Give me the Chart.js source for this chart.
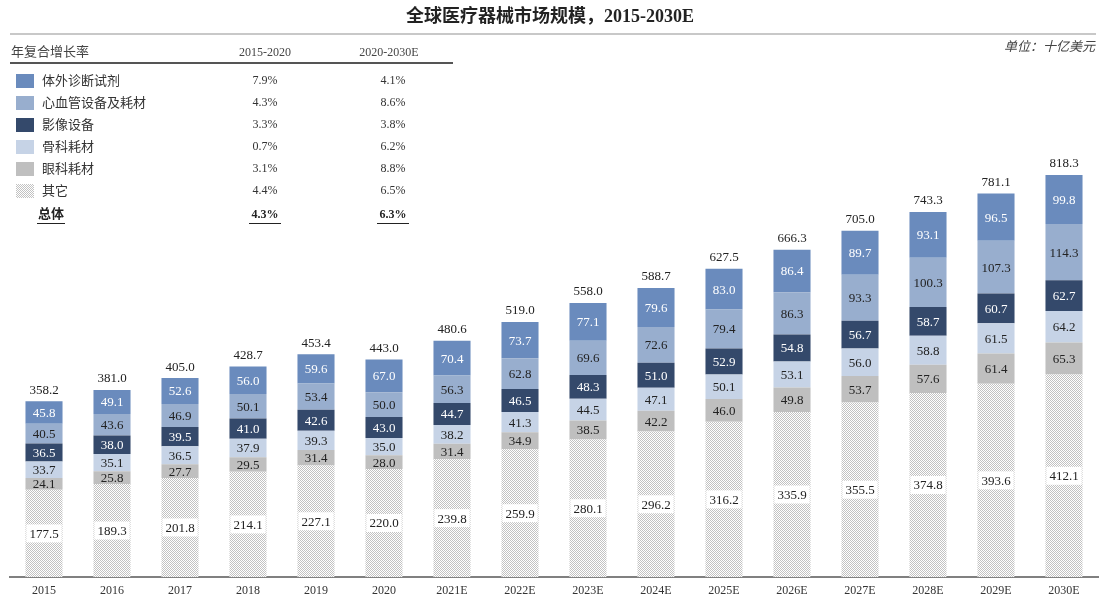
<!DOCTYPE html>
<html>
<head>
<meta charset="utf-8">
<script src="https://cdn.jsdelivr.net/npm/chart.js@4.4.1/dist/chart.umd.min.js"></script>
<style>
  html, body { margin: 0; padding: 0; background: #fff; }
  #wrap { position: relative; width: 1101px; height: 597px; }
</style>
</head>
<body>
<div id="wrap"><canvas id="chart" width="1101" height="597"></canvas></div>
<script>
// data (十亿美元)
const years = ['2015', '2016', '2017', '2018', '2019', '2020', '2021E', '2022E', '2023E', '2024E',
               '2025E', '2026E', '2027E', '2028E', '2029E', '2030E'];
const ivd      = [45.8, 49.1, 52.6, 56.0, 59.6, 67.0, 70.4, 73.7, 77.1, 79.6, 83.0, 86.4, 89.7, 93.1, 96.5, 99.8];
const cardio   = [40.5, 43.6, 46.9, 50.1, 53.4, 50.0, 56.3, 62.8, 69.6, 72.6, 79.4, 86.3, 93.3, 100.3, 107.3, 114.3];
const imaging  = [36.5, 38.0, 39.5, 41.0, 42.6, 43.0, 44.7, 46.5, 48.3, 51.0, 52.9, 54.8, 56.7, 58.7, 60.7, 62.7];
const ortho    = [33.7, 35.1, 36.5, 37.9, 39.3, 35.0, 38.2, 41.3, 44.5, 47.1, 50.1, 53.1, 56.0, 58.8, 61.5, 64.2];
const ophth    = [24.1, 25.8, 27.7, 29.5, 31.4, 28.0, 31.4, 34.9, 38.5, 42.2, 46.0, 49.8, 53.7, 57.6, 61.4, 65.3];
const other    = [177.5, 189.3, 201.8, 214.1, 227.1, 220.0, 239.8, 259.9, 280.1, 296.2, 316.2, 335.9, 355.5, 374.8, 393.6, 412.1];
const totals   = [358.2, 381.0, 405.0, 428.7, 453.4, 443.0, 480.6, 519.0, 558.0, 588.7, 627.5, 666.3, 705.0, 743.3, 781.1, 818.3];

// CAGR table, legend order top to bottom
const segNames = ['体外诊断试剂', '心血管设备及耗材', '影像设备', '骨科耗材', '眼科耗材', '其它'];
const cagr1520 = ['7.9%', '4.3%', '3.3%', '0.7%', '3.1%', '4.4%'];
const cagr2030 = ['4.1%', '8.6%', '3.8%', '6.2%', '8.8%', '6.5%'];
const totalCagr = ['4.3%', '6.3%'];

const SERIF = '"Liberation Serif", "Noto Sans CJK SC", serif';

// dotted fill for 其它
function dotPattern() {
    var c = document.createElement('canvas');
    c.width = 2; c.height = 2;
    var g = c.getContext('2d');
    g.fillStyle = '#ffffff';
    g.fillRect(0, 0, 2, 2);
    g.fillStyle = '#c2c2c2';
    g.fillRect(0, 0, 1, 1);
    g.fillRect(1, 1, 1, 1);
    return g.createPattern(c, 'repeat');
}
const dots = dotPattern();

const colors = {
    ivd: '#6a8bbd',
    cardio: '#98aece',
    imaging: '#34496b',
    ortho: '#c6d3e6',
    ophth: '#bfbfbf'
};

// label colour per dataset (bottom to top)
const labelColors = ['#222', '#222', '#222', '#fff', '#222', '#fff'];

const labelPlugin = {
    id: 'segLabels',
    afterDatasetsDraw(chart) {
        const ctx = chart.ctx;
        ctx.save();
        ctx.font = '13px ' + SERIF;
        ctx.textAlign = 'center';
        ctx.textBaseline = 'middle';
        chart.data.datasets.forEach((ds, di) => {
            const meta = chart.getDatasetMeta(di);
            meta.data.forEach((bar, i) => {
                const y = (bar.y + bar.base) / 2;
                const txt = ds.data[i].toFixed(1);
                if (di === 0) {
                    const w = ctx.measureText(txt).width + 6;
                    ctx.fillStyle = '#fff';
                    ctx.fillRect(bar.x - w / 2, y - 9, w, 18);
                }
                ctx.fillStyle = labelColors[di];
                ctx.fillText(txt, bar.x, y + 1);
            });
        });
        // totals on top
        const topMeta = chart.getDatasetMeta(chart.data.datasets.length - 1);
        ctx.fillStyle = '#222';
        topMeta.data.forEach((bar, i) => {
            ctx.fillText(totals[i].toFixed(1), bar.x, bar.y - 11);
        });
        ctx.restore();
    }
};

const framePlugin = {
    id: 'frame',
    afterDraw(chart) {
        const ctx = chart.ctx;
        ctx.save();
        // title
        ctx.fillStyle = '#222';
        ctx.font = 'bold 18px ' + SERIF;
        ctx.textAlign = 'center';
        ctx.textBaseline = 'middle';
        ctx.fillText('全球医疗器械市场规模，2015-2030E', 550, 17);
        ctx.fillStyle = '#c8c8c8';
        ctx.fillRect(10, 33, 1086, 2);

        // unit
        ctx.fillStyle = '#444';
        ctx.font = 'italic 13px ' + SERIF;
        ctx.textAlign = 'right';
        ctx.fillText('单位：十亿美元', 1095, 48);

        // table header
        ctx.font = '13px ' + SERIF;
        ctx.textAlign = 'left';
        ctx.fillStyle = '#444';
        ctx.fillText('年复合增长率', 11, 53);
        ctx.textAlign = 'center';
        ctx.font = '12px ' + SERIF;
        ctx.fillText('2015-2020', 265, 53);
        ctx.fillText('2020-2030E', 389, 53);
        ctx.fillStyle = '#555';
        ctx.fillRect(10, 62, 443, 2);

        // rows
        const rowY = [81, 103, 125, 147, 169, 191];
        const sw = [colors.ivd, colors.cardio, colors.imaging, colors.ortho, colors.ophth, dots];
        rowY.forEach((y, r) => {
            ctx.fillStyle = sw[r];
            ctx.fillRect(16, y - 7, 18, 14);
            ctx.fillStyle = '#333';
            ctx.textAlign = 'left';
            ctx.font = '13px ' + SERIF;
            ctx.fillText(segNames[r], 42, y + 1);
            ctx.textAlign = 'center';
            ctx.font = '12px ' + SERIF;
            ctx.fillText(cagr1520[r], 265, y);
            ctx.fillText(cagr2030[r], 393, y);
        });

        // total row, bold and underlined
        const ty = 215;
        ctx.fillStyle = '#222';
        ctx.font = 'bold 13px ' + SERIF;
        ctx.textAlign = 'center';
        ctx.fillText('总体', 51, ty);
        ctx.font = 'bold 12px ' + SERIF;
        ctx.fillText(totalCagr[0], 265, ty);
        ctx.fillText(totalCagr[1], 393, ty);
        ctx.fillRect(37, ty + 8, 28, 1);
        ctx.fillRect(249, ty + 8, 32, 1);
        ctx.fillRect(377, ty + 8, 32, 1);
        ctx.restore();
    }
};

const config = {
    type: 'bar',
    data: {
        labels: years,
        datasets: [
            { label: '其它', data: other, backgroundColor: dots },
            { label: '眼科耗材', data: ophth, backgroundColor: colors.ophth },
            { label: '骨科耗材', data: ortho, backgroundColor: colors.ortho },
            { label: '影像设备', data: imaging, backgroundColor: colors.imaging },
            { label: '心血管设备及耗材', data: cardio, backgroundColor: colors.cardio },
            { label: '体外诊断试剂', data: ivd, backgroundColor: colors.ivd }
        ]
    },
    options: {
        responsive: false,
        animation: false,
        layout: { padding: { left: 10, right: 3, top: 135, bottom: 0 } },
        datasets: { bar: { categoryPercentage: 1, barPercentage: 0.545, borderWidth: 0 } },
        plugins: {
            legend: { display: false },
            tooltip: { enabled: false }
        },
        scales: {
            x: {
                stacked: true,
                grid: { display: false, drawTicks: false },
                border: { display: true, color: '#808080', width: 2 },
                ticks: { color: '#333', font: { family: SERIF, size: 12 }, padding: 7 },
                afterFit(scale) { scale.height = 20; }
            },
            y: {
                stacked: true,
                display: false,
                min: 0,
                max: 900
            }
        }
    },
    plugins: [labelPlugin, framePlugin]
};

new Chart(document.getElementById('chart').getContext('2d'), config);
</script>
</body>
</html>
